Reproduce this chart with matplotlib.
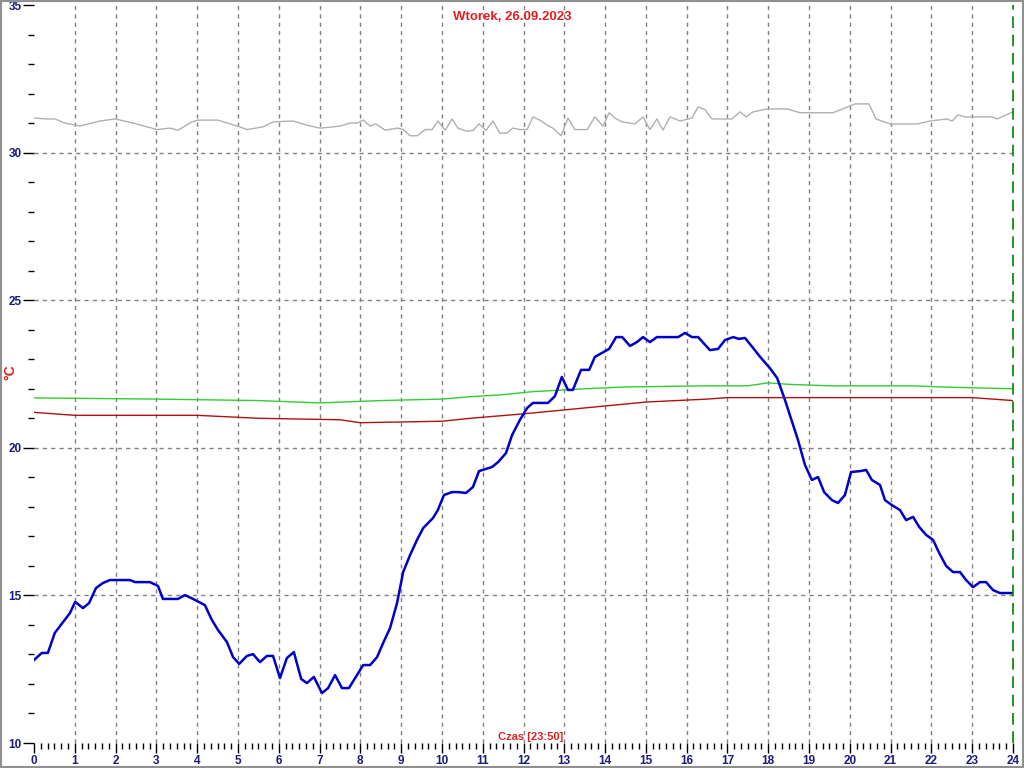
import matplotlib
matplotlib.use("Agg")
import matplotlib.pyplot as plt
from matplotlib.patches import Rectangle
from matplotlib.ticker import MultipleLocator

plt.rcParams['font.family'] = ['Liberation Sans', 'DejaVu Sans']

title = "Wtorek, 26.09.2023"
xlabel = "Czas [23:50]"
ylabel = "°C"

# outdoor temperature (blue)
blue_t = [0.00, 0.19, 0.34, 0.51, 0.88, 1.01, 1.20, 1.35, 1.52, 1.69, 1.86, 2.35, 2.48, 2.84,
          3.04, 3.16, 3.53, 3.70, 3.90, 4.19, 4.36, 4.51, 4.73, 4.88, 5.03, 5.22, 5.37, 5.54,
          5.71, 5.86, 6.03, 6.20, 6.37, 6.55, 6.69, 6.86, 7.06, 7.21, 7.38, 7.55, 7.72, 8.07,
          8.24, 8.41, 8.56, 8.73, 8.90, 9.05, 9.22, 9.39, 9.54, 9.78, 9.90, 10.05, 10.25, 10.39,
          10.59, 10.76, 10.91, 11.23, 11.38, 11.57, 11.72, 11.91, 12.09, 12.23, 12.60, 12.77,
          12.94, 13.09, 13.21, 13.41, 13.61, 13.75, 13.92, 14.10, 14.27, 14.42, 14.61, 14.78,
          14.93, 15.10, 15.27, 15.79, 15.96, 16.13, 16.28, 16.57, 16.77, 16.94, 17.14, 17.28,
          17.43, 17.63, 17.80, 18.04, 18.22, 18.41, 18.53, 18.73, 18.90, 19.07, 19.22, 19.37,
          19.56, 19.71, 19.88, 20.03, 20.25, 20.40, 20.54, 20.74, 20.86, 21.03, 21.23, 21.38,
          21.55, 21.70, 21.87, 22.04, 22.19, 22.36, 22.53, 22.70, 22.85, 23.02, 23.19, 23.34,
          23.51, 23.68, 24.00]
blue_v = [12.81, 13.05, 13.05, 13.73, 14.40, 14.78, 14.57, 14.74, 15.25, 15.42, 15.52, 15.52, 15.45, 15.45,
          15.32, 14.88, 14.88, 15.01, 14.88, 14.67, 14.17, 13.83, 13.42, 12.91, 12.68, 12.95, 13.01, 12.74,
          12.95, 12.95, 12.20, 12.88, 13.08, 12.17, 12.03, 12.24, 11.69, 11.86, 12.30, 11.86, 11.86, 12.64,
          12.64, 12.91, 13.39, 13.90, 14.74, 15.79, 16.37, 16.88, 17.28, 17.62, 17.89, 18.40, 18.50, 18.50,
          18.47, 18.67, 19.21, 19.35, 19.52, 19.82, 20.43, 20.94, 21.35, 21.52, 21.52, 21.75,
          22.40, 21.96, 21.96, 22.64, 22.64, 23.08, 23.21, 23.35, 23.75, 23.75, 23.45, 23.58,
          23.75, 23.58, 23.75, 23.75, 23.89, 23.75, 23.75, 23.31, 23.35, 23.65, 23.75, 23.69,
          23.72, 23.38, 23.08, 22.70, 22.36, 21.62, 21.11, 20.26, 19.42, 18.91, 19.01, 18.50,
          18.23, 18.13, 18.40, 19.18, 19.21, 19.25, 18.91, 18.74, 18.23, 18.06, 17.89, 17.55,
          17.66, 17.32, 17.05, 16.88, 16.44, 16.00, 15.79, 15.79, 15.52, 15.28, 15.45, 15.45,
          15.18, 15.08, 15.08]

# green series
green_t = [0.0, 3.0, 5.5, 7.0, 8.5, 10.0, 10.7, 11.5, 12.2, 13.5, 14.5, 16.5, 17.5, 18.0, 18.5, 19.5, 21.5, 22.5, 24.0]
green_v = [21.69, 21.65, 21.6, 21.52, 21.6, 21.65, 21.73, 21.8, 21.9, 22.0, 22.06, 22.1, 22.1, 22.2, 22.15, 22.1, 22.1, 22.05, 22.0]

# red series
red_t = [0.0, 1.0, 4.0, 5.5, 7.5, 8.0, 10.0, 10.7, 12.0, 13.5, 15.0, 16.5, 17.0, 23.0, 24.0]
red_v = [21.2, 21.1, 21.1, 21.0, 20.95, 20.85, 20.9, 21.0, 21.15, 21.35, 21.55, 21.65, 21.7, 21.7, 21.6]

# grey series
grey_t = [0.02, 0.32, 0.51, 0.76, 1.13, 1.62, 1.99, 2.43, 3.02, 3.33, 3.53, 3.87, 4.02, 4.51, 5.05,
          5.22, 5.61, 5.86, 6.35, 6.69, 7.01, 7.33, 7.50, 7.75, 7.92, 8.07, 8.24, 8.38, 8.61, 8.92,
          9.05, 9.22, 9.39, 9.59, 9.76, 9.90, 10.08, 10.25, 10.39, 10.62, 10.76, 10.91, 11.08, 11.25,
          11.42, 11.59, 11.74, 11.91, 12.09, 12.23, 12.40, 12.58, 12.72, 12.92, 13.09, 13.26, 13.56,
          13.75, 13.95, 14.10, 14.24, 14.42, 14.73, 14.93, 15.10, 15.27, 15.42, 15.59, 15.84, 16.13,
          16.28, 16.45, 16.62, 17.11, 17.31, 17.46, 17.63, 17.97, 18.46, 18.78, 19.59, 20.13, 20.47,
          20.64, 20.99, 21.65, 21.97, 22.38, 22.51, 22.65, 22.82, 23.49, 23.61, 24.00]
grey_v = [31.17, 31.14, 31.14, 31.0, 30.9, 31.07, 31.14, 31.0, 30.78, 30.83, 30.76, 31.04, 31.1, 31.1, 30.87,
          30.78, 30.87, 31.04, 31.07, 30.93, 30.83, 30.87, 30.9, 31.0, 31.0, 31.1, 30.9, 30.97, 30.76, 30.83,
          30.78, 30.57, 30.57, 30.78, 30.78, 31.07, 30.76, 31.14, 30.83, 30.72, 30.75, 30.97, 30.75, 31.07,
          30.66, 30.66, 30.83, 30.78, 30.78, 31.21, 31.1, 30.93, 30.83, 30.57, 31.17, 30.78, 30.78,
          31.21, 30.9, 31.35, 31.17, 31.04, 30.97, 31.21, 30.78, 31.14, 30.76, 31.21, 31.07, 31.17,
          31.55, 31.45, 31.14, 31.14, 31.38, 31.21, 31.38, 31.48, 31.48, 31.35, 31.35, 31.65, 31.65,
          31.14, 30.97, 30.97, 31.07, 31.14, 31.07, 31.28, 31.21, 31.21, 31.14, 31.38]

x_ticks = list(range(0, 25))
y_ticks = [10, 15, 20, 25, 30, 35]
now_hour = 24.0

W, H = 1024, 768
fig = plt.figure(figsize=(W / 100, H / 100), dpi=100)
ax = fig.add_axes([34 / W, (H - 743) / H, (1013 - 34) / W, (743 - 5) / H])
ax.set_xlim(0, 24)
ax.set_ylim(10, 35)
for s in ax.spines.values():
    s.set_visible(False)

grid_kw = dict(color='#808080', lw=1, ls=(0, (3, 3)), zorder=1)
for h in x_ticks[1:-1]:
    ax.axvline(h, **grid_kw)
for v in y_ticks[1:-1]:
    ax.axhline(v, **grid_kw)

ax.plot(grey_t, grey_v, color='#b0b0b0', lw=1, zorder=2)
ax.plot(red_t, red_v, color='#b01010', lw=1, zorder=3)
ax.plot(green_t, green_v, color='#33cc33', lw=1, zorder=3)
ax.plot(blue_t, blue_v, color='#0000c8', lw=1.8, zorder=4)

ax.axvline(now_hour, color='#008000', lw=1.2, ls=(0, (7, 4)), zorder=5, clip_on=False)

lab_color = '#1a1a80'
ax.set_xticks(x_ticks)
ax.set_xticklabels([str(h) for h in x_ticks])
ax.xaxis.set_minor_locator(MultipleLocator(1 / 6))
ax.set_yticks(y_ticks)
ax.set_yticklabels([str(v) for v in y_ticks])
ax.yaxis.set_minor_locator(MultipleLocator(1))
ax.tick_params(axis='x', which='major', direction='out', length=7, width=1.0, color='black',
               labelsize=8.5, labelcolor=lab_color, pad=2)
ax.tick_params(axis='x', which='minor', direction='out', length=4, width=1.0, color='black')
ax.tick_params(axis='y', which='major', direction='out', length=8, width=1.0, color='black',
               labelsize=8.5, labelcolor=lab_color, pad=1)
ax.tick_params(axis='y', which='minor', direction='out', length=4, width=1.0, color='black')
for lbl in ax.get_xticklabels() + ax.get_yticklabels():
    lbl.set_fontweight('bold')

fig.text(0.5, 1 - 17 / H, title, ha='center', va='center',
         color='#e02020', fontsize=9.5, fontweight='bold')
ax.text((531 - 34) / 979, (743 - 737) / 738, xlabel, transform=ax.transAxes, ha='center',
        va='center', color='#e02020', fontsize=8, fontweight='bold')
fig.text(10 / W, 1 - 372 / H, ylabel, rotation=90, ha='center', va='center',
         color='#e02020', fontsize=10, fontweight='bold')

fig.patches.append(Rectangle((0, 0), 1, 1, transform=fig.transFigure, fill=False,
                             edgecolor='#909090', lw=3, zorder=10))

fig.savefig('out.png', dpi=100)
